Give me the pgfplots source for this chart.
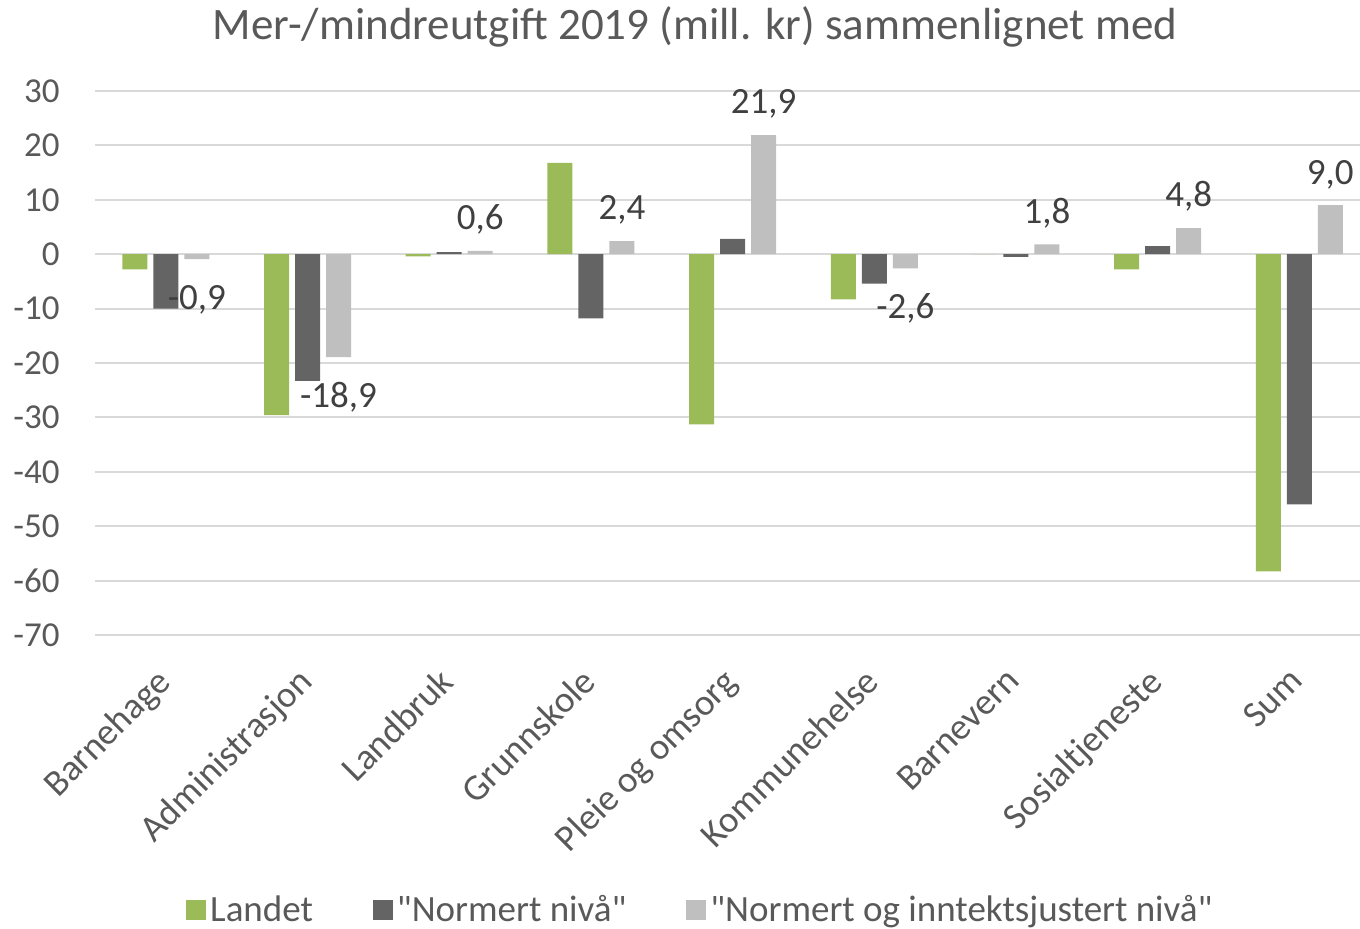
\documentclass[border=0pt]{standalone}
\usepackage{pgfplots}
\pgfplotsset{compat=1.18}
\usepackage{pgfplotstable}
\usepackage{fontspec}
\setmainfont{Carlito}[Ligatures=TeXOff]
\definecolor{cgreen}{HTML}{9BBB59}
\definecolor{cdark}{HTML}{646464}
\definecolor{clight}{HTML}{BFBFBF}
\definecolor{ctext}{HTML}{595959}
\definecolor{clab}{HTML}{404040}
\definecolor{cgrid}{HTML}{D9D9D9}
\pgfplotstableread{
x L N I
0 -2.8 -10.0 -0.9
1 -29.6 -23.3 -18.9
2 -0.4 0.4 0.6
3 16.8 -11.8 2.4
4 -31.3 2.8 21.9
5 -8.3 -5.4 -2.6
6 0 -0.5 1.8
7 -2.8 1.5 4.8
8 -58.3 -46.0 9.0
}\data
\newcommand{\fs}{\fontsize{18.5}{22}\selectfont}
\newcommand{\fy}{\fontsize{17.5}{21}\selectfont}
\newcommand{\q}{\symbol{34}}
\begin{document}
\begin{tikzpicture}
\path[use as bounding box] (-47.5pt,-147pt) rectangle (632.5pt,317.5pt);
\begin{axis}[
  at={(0,0)}, anchor=south west,
  scale only axis, width=637.6pt, height=272pt,
  ybar=3pt, bar width=12.5pt,
  xmin=-0.5, xmax=8.5, ymin=-70, ymax=30,
  ytick={-70,-60,...,30},
  xtick={0,...,8},
  xticklabels={Barnehage,Administrasjon,Landbruk,Grunnskole,Pleie og omsorg,Kommunehelse,Barnevern,Sosialtjeneste,Sum},
  xticklabel style={rotate=45, anchor=north east, font=\fs, text=ctext, inner sep=0pt, xshift=-11.9pt, yshift=-3.6pt},
  yticklabel style={font=\fy, text=ctext, inner sep=0pt, xshift=-17.5pt},
  /pgf/number format/assume math mode=true,
  ymajorgrids, major grid style={cgrid, line width=1pt},
  axis line style={draw=none}, tick style={draw=none},
  clip=false,
  legend columns=3,
  legend style={at={(0.4755,-0.5055)}, anchor=center, draw=none, font=\fs, text=ctext,
    /tikz/every even column/.append style={column sep=28pt}},
  legend image code/.code={\fill[#1] (0pt,-5pt) rectangle (10pt,5pt);},
]
\addplot[fill=cgreen, draw=none] table[x=x, y=L] {\data};
\addplot[fill=cdark, draw=none] table[x=x, y=N] {\data};
\addplot[fill=clight, draw=none,
  nodes near coords={\pgfmathprintnumber[fixed, fixed zerofill, precision=1, use comma, assume math mode=true]{\pgfplotspointmeta}},
  nodes near coords align={vertical},
  every node near coord/.append style={font=\fs, text=clab, inner sep=8pt, text height=17pt}]
  table[x=x, y=I] {\data};
\legend{Landet,\q Normert nivå\q,\q Normert og inntektsjustert nivå\q}
\end{axis}
\node[font=\fontsize{22.5}{26}\selectfont, text=ctext] at (300pt,304pt) {Mer-/mindreutgift 2019 (mill. kr) sammenlignet med};
\end{tikzpicture}
\end{document}
